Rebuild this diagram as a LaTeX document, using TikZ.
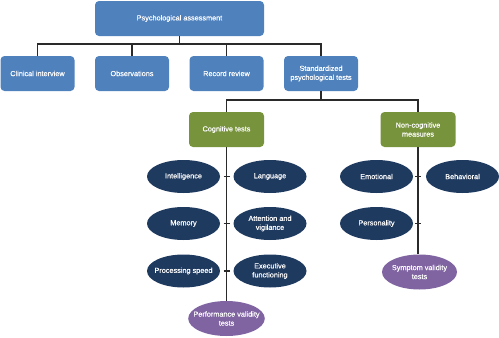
\documentclass[tikz,border=0pt]{standalone}
\usepackage{fontspec}
\setmainfont{Liberation Sans}[BoldFont=Liberation Sans, BoldFeatures={FakeBold=0.35}]
\usetikzlibrary{shapes.geometric}
\definecolor{boxblue}{HTML}{4F81BD}
\definecolor{boxgreen}{HTML}{77933C}
\definecolor{navy}{HTML}{1F3A5F}
\definecolor{lilac}{HTML}{8064A2}
\definecolor{linec}{HTML}{2A2A2A}
\begin{document}
\begin{tikzpicture}[x=1pt,y=-1pt,
  every node/.style={font=\fontsize{7.3}{9}\selectfont\bfseries, text=white, align=center, inner sep=0pt},
  bluebox/.style={fill=boxblue, rounded corners=4pt, minimum width=#1, minimum height=35pt},
  bluebox/.default=74pt,
  greenbox/.style={fill=boxgreen, rounded corners=4pt, minimum width=75pt, minimum height=35pt},
  oval/.style={ellipse, fill=navy, minimum width=73pt, minimum height=33pt, inner xsep=-6pt},
  valid/.style={ellipse, fill=lilac, minimum width=75pt, minimum height=35pt, inner xsep=-6pt},
  conn/.style={draw=linec, line width=1.1pt}]
\useasboundingbox (0,0) rectangle (499,338);
% nodes
\node[bluebox=169pt] (top) at (179.5,18.5) {Psychological assessment};
\node[bluebox] (ci) at (37.5,73.5) {Clinical interview};
\node[bluebox] (ob) at (132,73.5) {Observations};
\node[bluebox] (rr) at (226.5,73.5) {Record review};
\node[bluebox] (st) at (321,73.5) {Standardized\\psychological tests};
\node[greenbox] (cog) at (226.5,129.5) {Cognitive tests};
\node[greenbox] (non) at (418,129.5) {Non-cognitive\\measures};
% connectors (behind ovals)
\coordinate (hb) at (179.5,44);
\draw[conn] (top.south) -- (hb);
\draw[conn] (ci.north) -- (ci.north |- hb) -- (st.north |- hb) -- (st.north);
\draw[conn] (ob.north) -- (ob.north |- hb);
\draw[conn] (rr.north) -- (rr.north |- hb);
\coordinate (hc) at (321,100);
\draw[conn] (st.south) -- (hc);
\draw[conn] (cog.north) -- (cog.north |- hc) -- (non.north |- hc) -- (non.north);
\node[valid] (pv) at (226.5,318.5) {Performance validity\\tests};
\node[valid] (sv) at (419.5,272) {Symptom validity\\tests};
\draw[conn] (cog.south) -- (pv.north);
\draw[conn] (non.south) -- (non.south |- sv.north);
% ovals
\node[oval] (int) at (183.5,176.5) {Intelligence};
\node[oval] (lan) at (270,176.5) {Language};
\node[oval] (mem) at (183.5,223.5) {Memory};
\node[oval] (att) at (270,223.5) {Attention and\\vigilance};
\node[oval] (pro) at (183.5,271) {Processing speed};
\node[oval] (exe) at (270,271) {Executive\\functioning};
\node[oval] (emo) at (376.5,176.5) {Emotional};
\node[oval] (beh) at (462.5,176.5) {Behavioral};
\node[oval] (per) at (376.5,223.5) {Personality};
% ticks
\foreach \r in {int,mem,pro} \draw[conn] ([xshift=-3pt]cog.south |- \r.east) -- ([xshift=3pt]cog.south |- \r.east);
\foreach \r in {emo,per} \draw[conn] ([xshift=-3pt]non.south |- \r.east) -- ([xshift=3pt]non.south |- \r.east);
\end{tikzpicture}
\end{document}
